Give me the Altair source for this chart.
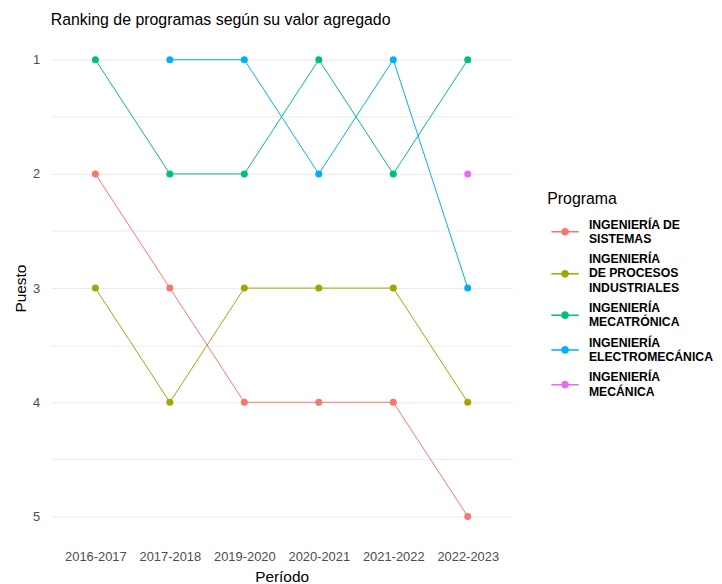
import altair as alt
import pandas as pd

periods = ["2016-2017", "2017-2018", "2019-2020", "2020-2021", "2021-2022", "2022-2023"]
programs = [
    "INGENIERÍA DE|SISTEMAS",
    "INGENIERÍA|DE PROCESOS|INDUSTRIALES",
    "INGENIERÍA|MECATRÓNICA",
    "INGENIERÍA|ELECTROMECÁNICA",
    "INGENIERÍA|MECÁNICA",
]
colors = ["#F8766D", "#A3A500", "#00BF7D", "#00B0F6", "#E76BF3"]

rank_sistemas = [2, 3, 4, 4, 4, 5]
rank_procesos = [3, 4, 3, 3, 3, 4]
rank_mecatronica = [1, 2, 2, 1, 2, 1]
rank_electromecanica = [None, 1, 1, 2, 1, 3]
rank_mecanica = [None, None, None, None, None, 2]

series = [rank_sistemas, rank_procesos, rank_mecatronica, rank_electromecanica, rank_mecanica]
rows = []
for prog, vals in zip(programs, series):
    for per, v in zip(periods, vals):
        if v is not None:
            rows.append({"Periodo": per, "Puesto": v, "Programa": prog})
df = pd.DataFrame(rows)


def key_path(dy):
    # legend key: short line with a dot, shifted down to centre it on multi-line labels
    return (f"M-1,{dy - 0.05}H1V{dy + 0.05}H-1Z "
            f"M0.28,{dy} A0.28,0.28 0 1 1 -0.28,{dy} A0.28,0.28 0 1 1 0.28,{dy}Z")


n_lines = [p.count("|") + 1 for p in programs]
key_shapes = [key_path(round((n - 1) * 0.53, 3)) for n in n_lines]

x = alt.X("Periodo:N", sort=periods, title="Período",
          scale=alt.Scale(type="point", padding=0.6),
          axis=alt.Axis(labelAngle=0, ticks=False, domain=False, labelPadding=11,
                        titlePadding=6))
y = alt.Y("Puesto:Q", title="Puesto",
          scale=alt.Scale(domain=[0.8, 5.2], reverse=True, nice=False, zero=False),
          axis=alt.Axis(values=[1, 1.5, 2, 2.5, 3, 3.5, 4, 4.5, 5],
                        labelExpr="datum.value % 1 == 0 ? format(datum.value, 'd') : ''",
                        ticks=False, domain=False, labelPadding=11, titlePadding=4))
legend = alt.Legend(title="Programa", orient="none", legendX=500, legendY=155,
                    labelExpr="split(datum.label, '|')",
                    symbolSize=760, symbolStrokeWidth=0, symbolOpacity=1,
                    symbolOffset=4)
color = alt.Color("Programa:N", sort=programs,
                  scale=alt.Scale(domain=programs, range=colors), legend=legend)
shape = alt.Shape("Programa:N", sort=programs,
                  scale=alt.Scale(domain=programs, range=key_shapes), legend=legend)

base = alt.Chart(df)
lines = base.mark_line(strokeWidth=1).encode(x=x, y=y, color=color, detail="Programa:N")
points = base.mark_circle(size=50, opacity=1).encode(x=x, y=y, color=color)
keys = base.mark_point(filled=True, opacity=1).encode(
    x=x, y=y, color=color, shape=shape).transform_filter("false")

chart = alt.layer(lines, points, keys).properties(
    width=465, height=506,
    padding={"top": 2, "left": 5, "right": 0, "bottom": 5},
    title=alt.TitleParams("Ranking de programas según su valor agregado", anchor="start",
                          frame="group",
                          fontSize=16, font="Liberation Sans", fontWeight="normal",
                          color="#000000", offset=9),
).configure_view(stroke=None).configure_axis(
    gridColor="#EBEBEB", gridWidth=1,
    labelFont="Liberation Sans", labelFontSize=13, labelColor="#4D4D4D",
    titleFont="Liberation Sans", titleFontSize=15.5, titleFontWeight="normal", titleColor="#000000",
).configure_legend(
    titleFont="Liberation Sans", titleFontSize=16, titleFontWeight="normal", titleColor="#000000",
    labelFont="Liberation Sans", labelFontSize=12.3, labelFontWeight="bold", labelColor="#000000",
    labelLimit=300, rowPadding=-6, labelOffset=10, titlePadding=4,
)

chart.save("out.html", embed_options={"renderer": "svg", "actions": False})
